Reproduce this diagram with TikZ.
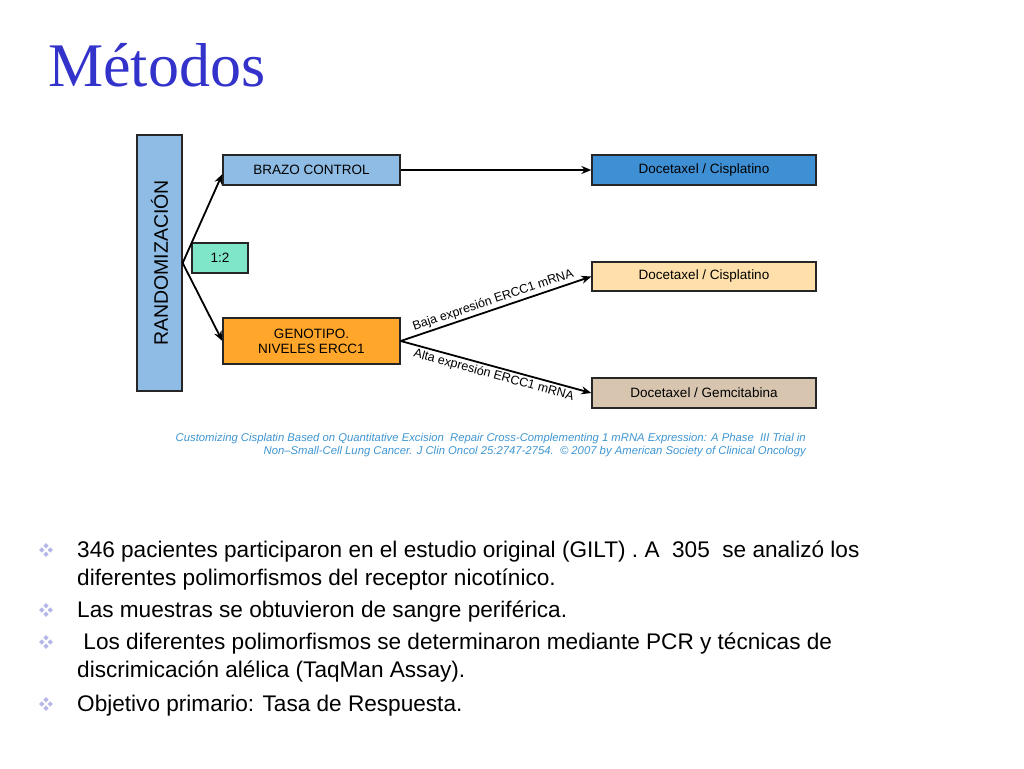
\documentclass[tikz,border=0pt]{standalone}
\usepackage{fontspec}
\setmainfont{Liberation Sans}
\newfontfamily\titlefont{Liberation Serif}
\usetikzlibrary{arrows.meta}

\definecolor{titleblue}{HTML}{3333CC}
\definecolor{randblue}{HTML}{8FBCE4}
\definecolor{ratiogreen}{HTML}{80E6CA}
\definecolor{genoorange}{HTML}{FFA62B}
\definecolor{ctrlblue}{HTML}{3E8FD4}
\definecolor{bajapeach}{HTML}{FFE0AA}
\definecolor{altatan}{HTML}{D8C5AF}
\definecolor{citeblue}{HTML}{3E95D1}
\definecolor{bulletlila}{HTML}{B5B5E8}

\tikzset{
	caja/.style={draw=black!85, line width=1.3pt, rectangle, inner sep=0pt, align=center, font=\fontsize{13.5}{15}\selectfont},
	flecha/.style={line width=1.8pt, -{Stealth[length=10pt,width=8pt]}},
	etiqueta/.style={font=\fontsize{12.5}{14}\selectfont, sloped, inner sep=2pt},
	punto/.style={font=\fontsize{22.6}{28}\selectfont, anchor=base west, align=left, inner sep=0pt}
}

% viñeta de cuatro rombos
\newcommand{\vineta}[1]{
	\begin{scope}[shift={#1}]
		\foreach \dx/\dy in {0/-4.2, 0/4.2, -4.2/0, 4.2/0}
			\fill[bulletlila] (\dx,\dy+2.6) -- (\dx+2.6,\dy) -- (\dx,\dy-2.6) -- (\dx-2.6,\dy) -- cycle;
	\end{scope}
}

\begin{document}
\begin{tikzpicture}[x=1pt, y=-1pt]
		\useasboundingbox (0,0) rectangle (1024,768);

		% título
		\node [anchor=base west, inner sep=0pt, text=titleblue, font=\titlefont\fontsize{62}{62}\selectfont] (titulo) at ( 48, 86 ) {Métodos};

		% esquema del ensayo
		\node [caja, fill=randblue, minimum width=45pt, minimum height=256pt] (rand) at ( 159.5, 263 ) {};
		\node [rotate=90, font=\fontsize{19.5}{20}\selectfont] (randtexto) at ( 159.5, 263 ) {RANDOMIZACIÓN};
		\node [caja, fill=randblue, minimum width=177pt, minimum height=30pt] (brazo) at ( 311.5, 170 ) {BRAZO CONTROL};
		\node [caja, fill=ratiogreen, minimum width=56pt, minimum height=30pt] (ratio) at ( 220, 258 ) {1:2};
		\node [caja, fill=genoorange, minimum width=177pt, minimum height=46pt] (genotipo) at ( 311.5, 341 ) {GENOTIPO.\\NIVELES ERCC1};
		\node [caja, fill=ctrlblue, minimum width=224pt, minimum height=30pt] (docecontrol) at ( 704, 170 ) {Docetaxel / Cisplatino};
		\node [caja, fill=bajapeach, minimum width=224pt, minimum height=29pt] (docebaja) at ( 704, 276.5 ) {Docetaxel / Cisplatino};
		\node [caja, fill=altatan, minimum width=224pt, minimum height=30pt] (docealta) at ( 704, 393 ) {Docetaxel / Gemcitabina};

		% flechas
		\draw [flecha] (rand.east) -- ([yshift=-4pt]brazo.west);
		\draw [flecha] (rand.east) -- (genotipo.west);
		\draw [flecha] (brazo.east) -- (docecontrol.west);
		\draw [flecha] (genotipo.east) -- node [etiqueta, above] {Baja expresión ERCC1 mRNA} (docebaja.west);
		\draw [flecha] (genotipo.east) -- node [etiqueta, below] {Alta expresión ERCC1 mRNA} (docealta.west);

		% referencia
		\node [anchor=base east, align=right, inner sep=0pt, text=citeblue, font=\itshape\fontsize{11.3}{13}\selectfont] (cita) at ( 806, 454 ) {Customizing Cisplatin Based on Quantitative Excision\ \ Repair Cross-Complementing 1 mRNA Expression: A Phase\ \ III Trial in\\Non–Small-Cell Lung Cancer. J Clin Oncol 25:2747-2754.\ \ © 2007 by American Society of Clinical Oncology};

		% viñetas
		\vineta{(46,550)}
		\node [punto] (punto1) at ( 77, 585 ) {346 pacientes participaron en el estudio original (GILT) . A\ \ 305\ \ se analizó los\\diferentes polimorfismos del receptor nicotínico.};
		\vineta{(46,610)}
		\node [punto] (punto2) at ( 77, 617 ) {Las muestras se obtuvieron de sangre periférica.};
		\vineta{(46,642)}
		\node [punto] (punto3) at ( 77, 677 ) {\ Los diferentes polimorfismos se determinaron mediante PCR y técnicas de\\discrimicación alélica (TaqMan Assay).};
		\vineta{(46,704)}
		\node [punto] (punto4) at ( 77, 711 ) {Objetivo primario: Tasa de Respuesta.};
	\end{tikzpicture}
\end{document}
